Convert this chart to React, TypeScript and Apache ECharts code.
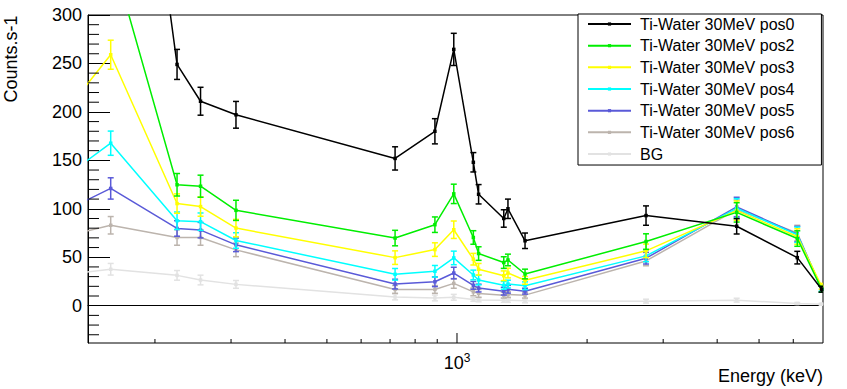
import React, { useEffect, useRef } from "react";
import * as echarts from "echarts";

// Energies (keV) of the measured gamma lines
const energies = [122, 158, 225, 255, 308, 719, 889, 983, 1091, 1122, 1283, 1312, 1437, 2738, 4438, 6130, 6980];

const seriesNames = [
  "Ti-Water 30MeV pos0",
  "Ti-Water 30MeV pos2",
  "Ti-Water 30MeV pos3",
  "Ti-Water 30MeV pos4",
  "Ti-Water 30MeV pos5",
  "Ti-Water 30MeV pos6",
  "BG",
];

const pos0 = [600, 760, 249, 211, 197, 152, 180, 264.5, 148, 115, 90, 100, 67, 93, 82, 49.6, 17];
const pos2 = [330, 366, 124.8, 123.3, 98.4, 69.8, 83.6, 115.4, 70.4, 53.8, 44.5, 47.2, 32.7, 66.2, 96.3, 69.3, 17];
const pos3 = [196, 259, 105.4, 102.3, 80.1, 49.6, 57.9, 78.4, 48, 37.6, 30.9, 33.7, 26.2, 56.6, 98.1, 71.4, 20];
const pos4 = [131, 167.7, 87.7, 86.7, 67.3, 32.4, 35.5, 49.3, 31.7, 26.5, 21, 22.3, 20.6, 51.4, 100.5, 73.2, 18];
const pos5 = [96.6, 121, 79.7, 78, 62.8, 22.3, 24.7, 33.7, 21, 18.2, 15, 17, 15, 49, 101.9, 73.9, 17];
const pos6 = [71, 83, 70.4, 70.4, 57.6, 16.8, 16.8, 23, 14.3, 12.7, 10.9, 11.6, 10.9, 46.2, 99.1, 75, 17];
const bg = [31.8, 37.6, 31.3, 26.5, 22, 9, 8, 8.7, 6.5, 6, 5.5, 5.5, 5, 4.7, 5.7, 2.3, 1.5];

const pos0Err = [20, 25, 15.5, 14.4, 13.8, 12, 13, 16.6, 10, 10, 9, 10, 8, 10, 8, 6.5, 3];
const pos2Err = [14, 15, 11.6, 11.4, 10.4, 8, 8, 10, 7, 7, 6, 6, 5, 8, 10, 8, 3];
const pos3Err = [14, 15, 10, 10, 9, 7, 7, 9, 6, 6, 5, 5, 4, 7, 10, 8, 3];
const pos4Err = [12, 12.5, 9, 9, 8, 6, 6, 7, 5, 5, 4, 4, 4, 6, 10, 8, 3];
const pos5Err = [11, 11, 8, 8, 7, 5, 5, 6, 4, 4, 4, 4, 3, 6, 10, 8, 3];
const pos6Err = [9, 9, 8, 8, 7, 4, 4, 5, 4, 4, 3, 3, 3, 5, 10, 8, 3];
const bgErr = [6, 6, 5, 5, 4, 3, 3, 3, 2, 2, 2, 2, 2, 2, 2, 1, 1];

const values = [pos0, pos2, pos3, pos4, pos5, pos6, bg];
const errors = [pos0Err, pos2Err, pos3Err, pos4Err, pos5Err, pos6Err, bgErr];
const colors = ["#000000", "#00ee00", "#ffff00", "#00ffff", "#5a5ad8", "#bcb4ad", "#e2e2e2"];

// Axis decoration values
const X_MIN = 140;
const X_MAX = 7030;
const Y_MIN = -38.5;
const Y_MAX = 300;
const xMinorTicks = [200, 300, 400, 500, 600, 700, 800, 900, 2000, 3000, 4000, 5000, 6000];
const xMajorTicks = [1000];
const yMinorTicks: number[] = [];
for (let v = -30; v < 300; v += 10) if (v % 50 !== 0) yMinorTicks.push(v);

const FONT = "'Liberation Sans', Arial, Helvetica, sans-serif";

export default function App() {
  const ref = useRef<HTMLDivElement>(null);
  useEffect(() => {
    if (!ref.current) return;
    const chart = echarts.init(ref.current, undefined, { renderer: "svg" });

    const lineSeries: any[] = seriesNames.map((name, i) => ({
      name,
      type: "line",
      data: energies.map((e, j) => [e, values[i][j]]),
      symbol: "rect",
      symbolSize: 3.5,
      showSymbol: true,
      color: colors[i],
      lineStyle: { width: 1.5, color: colors[i] },
      itemStyle: { color: colors[i] },
      clip: true,
      z: 10 - i,
    }));

    const errSeries: any[] = seriesNames.map((name, i) => ({
      name: name + " err",
      type: "custom",
      clip: true,
      z: 10 - i,
      data: energies.map((e, j) => [e, values[i][j], errors[i][j]]),
      encode: { x: 0, y: 1 },
      renderItem: (params: any, api: any) => {
        const x = api.value(0);
        const y = api.value(1);
        const er = api.value(2);
        const t = api.coord([x, y + er]);
        const b = api.coord([x, y - er]);
        const st = { stroke: colors[i], lineWidth: 1.5 };
        return {
          type: "group",
          children: [
            { type: "line", shape: { x1: t[0], y1: t[1], x2: b[0], y2: b[1] }, style: st },
            { type: "line", shape: { x1: t[0] - 3, y1: t[1], x2: t[0] + 3, y2: t[1] }, style: st },
            { type: "line", shape: { x1: b[0] - 3, y1: b[1], x2: b[0] + 3, y2: b[1] }, style: st },
          ],
        };
      },
    }));

    const tickSeries: any[] = [
      {
        type: "custom",
        name: "xticks",
        silent: true,
        clip: false,
        z: 20,
        data: [...xMinorTicks.map((v) => [v, 4]), ...xMajorTicks.map((v) => [v, 10])],
        renderItem: (params: any, api: any) => {
          const p = api.coord([api.value(0), Y_MIN]);
          const len = api.value(1);
          return {
            type: "line",
            shape: { x1: p[0], y1: p[1], x2: p[0], y2: p[1] - len },
            style: { stroke: "#000", lineWidth: 1 },
          };
        },
      },
      {
        type: "custom",
        name: "yticks",
        silent: true,
        clip: false,
        z: 20,
        data: yMinorTicks.map((v) => [X_MIN, v]),
        renderItem: (params: any, api: any) => {
          const p = api.coord([X_MIN, api.value(1)]);
          return {
            type: "line",
            shape: { x1: p[0], y1: p[1], x2: p[0] + 11, y2: p[1] },
            style: { stroke: "#000", lineWidth: 1 },
          };
        },
      },
    ];

    chart.setOption({
      animation: false,
      backgroundColor: "#ffffff",
      textStyle: { fontFamily: FONT },
      grid: {
        left: 88,
        right: 24,
        top: 15,
        bottom: 46,
        show: true,
        borderColor: "#000",
        borderWidth: 1,
        backgroundColor: "transparent",
      },
      xAxis: {
        type: "log",
        logBase: 10,
        min: X_MIN,
        max: X_MAX,
        axisLine: { show: true, lineStyle: { color: "#000", width: 1 } },
        axisTick: { show: false },
        splitLine: { show: false },
        minorTick: { show: false },
        axisLabel: {
          margin: 9,
          showMinLabel: false,
          showMaxLabel: false,
          formatter: (v: number) => (Math.abs(v - 1000) < 1 ? "{a|10}{b|3}" : ""),
          rich: {
            a: { fontSize: 18, color: "#000", fontFamily: FONT },
            b: { fontSize: 12, color: "#000", fontFamily: FONT, padding: [0, 0, 10, 0] },
          },
        },
      },
      yAxis: {
        type: "value",
        min: Y_MIN,
        max: Y_MAX,
        axisLine: { show: true, lineStyle: { color: "#000", width: 1 } },
        axisTick: { show: true, inside: true, length: 22, lineStyle: { color: "#000", width: 1 } },
        minorTick: { show: false },
        splitLine: { show: false },
        axisLabel: {
          showMinLabel: false,
          margin: 6,
          fontSize: 18,
          color: "#000",
          fontFamily: FONT,
        },
      },
      legend: {
        orient: "vertical",
        left: 578,
        top: 14,
        data: seriesNames,
        itemWidth: 43,
        itemHeight: 4,
        itemGap: 5.67,
        padding: [2, 27, 3, 9],
        borderColor: "#000",
        borderWidth: 1,
        borderRadius: 0,
        backgroundColor: "#ffffff",
        selectedMode: false,
        textStyle: { fontSize: 16, color: "#000", fontFamily: FONT, padding: [0, 0, 0, 4] },
      },
      graphic: [
        {
          type: "text",
          x: 11,
          y: 59,
          rotation: Math.PI / 2,
          style: {
            text: "Counts.s-1",
            font: `18px ${FONT}`,
            fill: "#000",
            align: "center",
            verticalAlign: "middle",
          },
        },
        {
          type: "text",
          x: 823,
          y: 376,
          style: {
            text: "Energy (keV)",
            font: `18px ${FONT}`,
            fill: "#000",
            align: "right",
            verticalAlign: "middle",
          },
        },
      ],
      series: [...lineSeries, ...errSeries, ...tickSeries],
    });

    return () => chart.dispose();
  }, []);

  return (
    <div
      ref={ref}
      style={{ position: "absolute", left: 0, top: 0, width: 847, height: 389 }}
    />
  );
}
